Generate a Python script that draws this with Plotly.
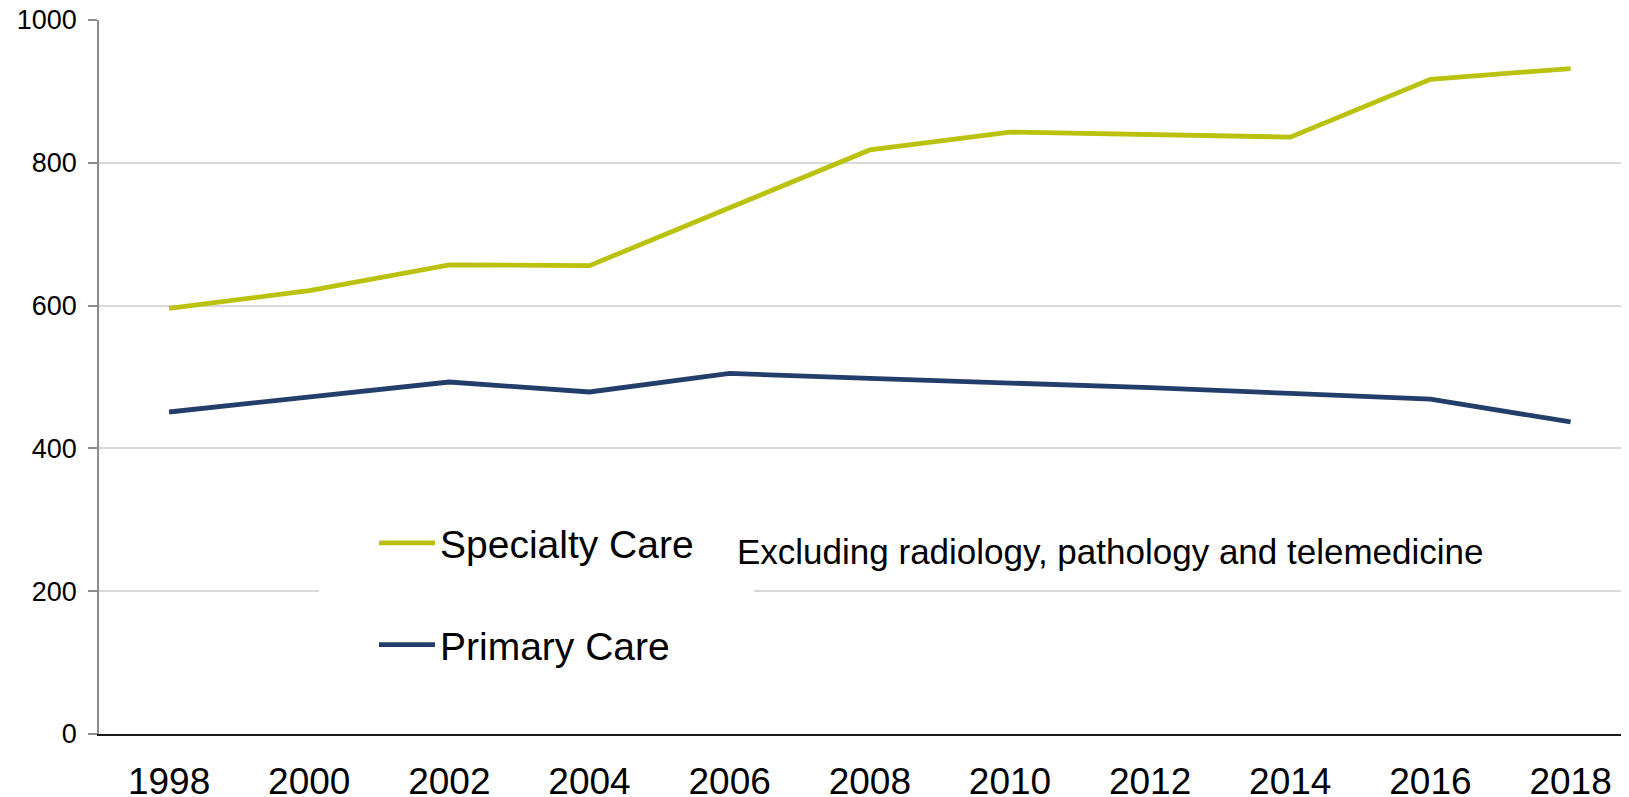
import plotly.graph_objects as go

years = ["1998", "2000", "2002", "2004", "2006", "2008", "2010", "2012", "2014", "2016", "2018"]
specialty_care = [596, 621, 657, 656, 737, 818, 843, 840, 836, 917, 932]
primary_care = [451, 472, 493, 479, 505, 498, 492, 485, 477, 469, 437]
y_ticks = [0, 200, 400, 600, 800, 1000]
note_text = "Excluding radiology, pathology and telemedicine"

FONT = "Liberation Sans, Arial, sans-serif"

# page body has an 8px margin, so the figure is drawn 8px smaller and offset
W, H = 1621, 789
L, T, B = 91, 12, 63
PW = W - L          # plot width (right edge flush with the page)
PH = H - T - B      # plot height
LEG_PAD = 55        # white legend border widens the legend box


def px_x(x_full):
    return (x_full - 8 - L) / PW


def px_y(y_full):
    return (H - B - (y_full - 8)) / PH


fig = go.Figure()
fig.add_trace(go.Scatter(
    x=years, y=specialty_care, name="Specialty Care", mode="lines",
    line=dict(color="#BAC20E", width=4.8), legendgroup="a",
))
fig.add_trace(go.Scatter(
    x=years, y=primary_care, name="Primary Care", mode="lines",
    line=dict(color="#243E6B", width=4.8), legendgroup="b",
))

fig.update_layout(
    width=W, height=H,
    margin=dict(l=L, r=0, t=T, b=B, autoexpand=False),
    paper_bgcolor="white", plot_bgcolor="white",
    font=dict(family=FONT, color="black"),
    showlegend=True,
    legend=dict(
        x=px_x(374 - LEG_PAD), xanchor="left", y=px_y(594), yanchor="middle",
        bgcolor="white", bordercolor="white", borderwidth=LEG_PAD,
        font=dict(size=39, family=FONT, color="black"),
        tracegroupgap=48, itemwidth=56, traceorder="grouped",
    ),
    xaxis=dict(
        type="category", range=[-0.5, 10.417], automargin=False,
        showgrid=False, showline=True, linecolor="#1a1a1a", linewidth=2,
        ticks="", tickfont=dict(size=37, family=FONT, color="black"),
        ticklabelstandoff=14, zeroline=False,
    ),
    yaxis=dict(
        range=[0, 1000], tickvals=y_ticks, ticktext=[str(v) for v in y_ticks],
        automargin=False, ticklabeloverflow="allow",
        showgrid=True, gridcolor="#D9D9D9", gridwidth=1.5,
        showline=True, linecolor="#8C8C8C", linewidth=1.5,
        ticks="outside", ticklen=9, tickcolor="#8C8C8C", tickwidth=1.5,
        tickfont=dict(size=27, family=FONT, color="black"),
        ticklabelstandoff=6, zeroline=False,
    ),
    annotations=[dict(
        text=note_text, xref="paper", yref="paper",
        x=px_x(735), xanchor="left", y=px_y(551), yanchor="middle",
        showarrow=False, font=dict(size=35, family=FONT, color="black"),
    )],
)

fig.write_html("out.html")
